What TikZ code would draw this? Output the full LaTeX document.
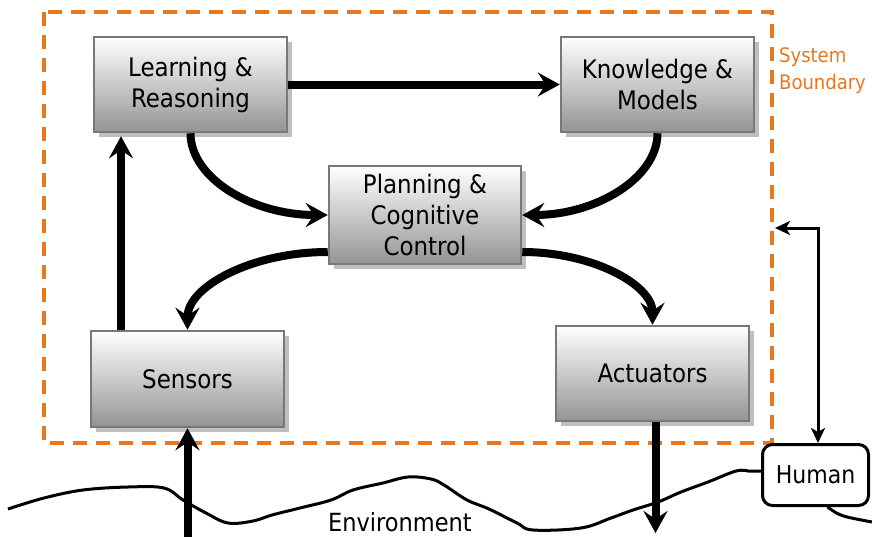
\documentclass[tikz,border=0pt]{standalone}
\usepackage{fontspec}
\setmainfont{DejaVu Sans Condensed}
\usetikzlibrary{arrows.meta,shadows}
\definecolor{bord}{RGB}{232,119,30}
\definecolor{boxedge}{RGB}{120,120,120}
\definecolor{boxbot}{RGB}{148,148,148}
\begin{document}
\begin{tikzpicture}[x=1pt,y=-1pt,
  blk/.style={draw=boxedge, line width=2.5pt, top color=white, bottom color=boxbot,
    minimum width=193pt, minimum height=95pt, align=center,
    font=\fontsize{25.5}{31}\selectfont, inner sep=0pt,
    drop shadow={shadow xshift=5pt, shadow yshift=-5pt, fill=black!25, opacity=1}},
  fat/.style={line width=8pt, -{Stealth[length=22pt,width=24pt,inset=8pt]}},
  thinarr/.style={line width=3pt, {Stealth[length=15pt,width=14pt,inset=4pt]}-{Stealth[length=15pt,width=14pt,inset=4pt]}},
]
\useasboundingbox (0,0) rectangle (872,536);

% system boundary
\draw[bord, line width=3.5pt, dash pattern=on 14pt off 9pt] (44,12) rectangle (772,443);
\node[bord, anchor=west, align=left, font=\fontsize{20}{27}\selectfont, inner sep=0pt] (sb) at (779,71) {System\\Boundary};

% boxes
\node[blk] (lr) at (190.5,84.5) {Learning \&\\Reasoning};
\node[blk] (km) at (657.5,84.5) {Knowledge \&\\Models};
\node[blk, minimum width=192pt, minimum height=98pt] (pc) at (425,215) {Planning \&\\Cognitive\\Control};
\node[blk, minimum height=96pt] (se) at (187.5,379) {Sensors};
\node[blk] (ac) at (652.5,373.5) {Actuators};

% human
\node[draw, line width=3pt, rounded corners=10pt, fill=white, minimum width=106pt,
  minimum height=61pt, font=\fontsize{24.5}{28}\selectfont, inner sep=0pt] (hu) at (815.5,475) {Human};

% environment
\draw[line width=3pt, line join=round] plot[smooth, tension=0.6] coordinates {
 (8,509) (44,498) (83,490) (128,487) (164,488) (183,500) (206,513) (228,523)
 (253,521) (272,515) (300,508) (331,500) (353,490) (383,483) (408,477) (431,479)
 (444,485) (467,500) (489,509) (517,523) (533,530) (581,528) (611,518) (633,510)
 (658,502) (681,492) (708,482) (736,471) (748,471)} -- ([yshift=4pt]hu.west);
\draw[line width=3pt] ([xshift=12pt]hu.south) .. controls (840,516) .. (872,522);
\node[font=\fontsize{25}{28}\selectfont, inner sep=0pt] (env) at (400,522) {Environment};

% connectors
\draw[fat] (lr.east) -- (km.west);
\draw[fat] (lr.south) .. controls (190.5,178) and (252,215) .. (pc.west);
\draw[fat] (km.south) .. controls (657.5,178) and (596,215) .. (pc.east);
\draw[fat] ([yshift=-37pt]pc.west) .. controls (251,252) and (187.5,287) .. (se.north);
\draw[fat] ([yshift=-37pt]pc.east) .. controls (593,252) and (652.5,285) .. (ac.north);
\draw[fat] ([xshift=-66.5pt]se.north) -- ([xshift=-69.5pt, yshift=-3pt]lr.south);
\coordinate (senin) at (187.5,540);
\draw[fat] (senin) -- (se.south);
\coordinate (acout) at (655.5,533);
\draw[fat] ([xshift=3pt]ac.south) -- (acout);
\coordinate (bdy) at (775,228);
\draw[thinarr] (bdy) -| ([xshift=2.5pt]hu.north);
\end{tikzpicture}
\end{document}
